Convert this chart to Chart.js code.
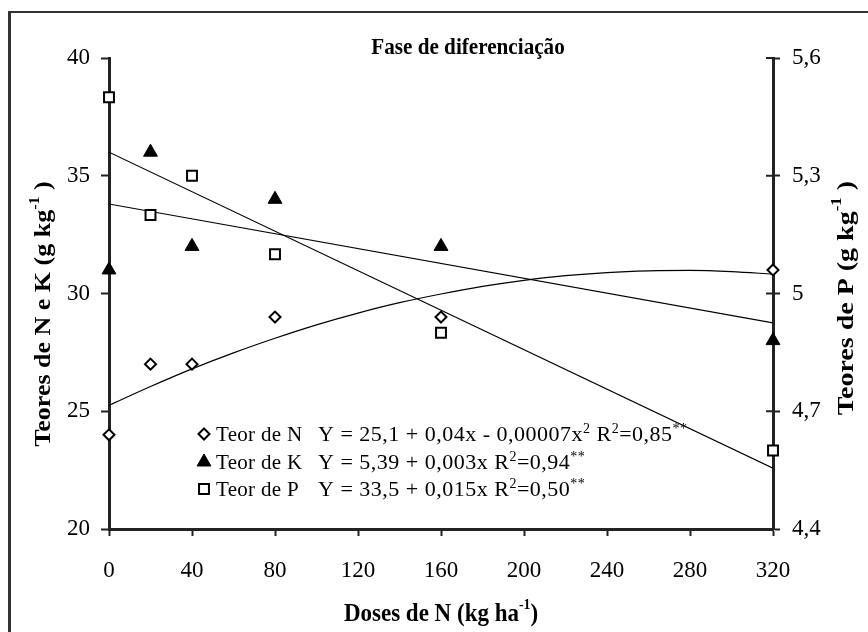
<!DOCTYPE html>
<html><head><meta charset="utf-8">
<script src="https://cdn.jsdelivr.net/npm/chart.js@4.4.1/dist/chart.umd.min.js"></script>
<style>
html,body{margin:0;padding:0;background:#fff;}
#wrap{position:relative;width:868px;height:632px;overflow:hidden;}
#frame{position:absolute;left:8px;top:11px;width:900px;height:700px;border-left:3px solid #333;border-top:2px solid #333;}
#c{position:absolute;left:0;top:0;}
</style></head><body>
<div id="wrap"><div id="frame"></div><canvas id="c" width="868" height="632"></canvas></div>
<script>
// ---- data ----
const doses = [0, 20, 40, 80, 160, 320];
const teorN = [24, 27, 27, 29, 29, 31];
const teorK = [31, 36, 32, 34, 32, 28];
const teorP = [5.5, 5.2, 5.3, 5.1, 4.9, 4.6];
// trend curves
const trendNDoses = [0, 20, 40, 60, 80, 100, 120, 140, 160, 180, 200, 220, 240, 260, 280, 300, 320];
const trendN = [25.25, 26.05, 26.8, 27.48, 28.1, 28.67, 29.17, 29.61, 29.98, 30.3, 30.56, 30.76, 30.89, 30.96, 30.98, 30.93, 30.82];
const trendKDoses = [0, 320];
const trendK = [33.8, 28.75];
const trendPDoses = [0, 320];
const trendP = [5.36, 4.555];
// ticks
const xTicks = [0, 40, 80, 120, 160, 200, 240, 280, 320];
const leftTicks = [20, 25, 30, 35, 40];
const rightTicks = [4.4, 4.7, 5.0, 5.3, 5.6];
// texts
const chartTitle = 'Fase de diferenciação';
const legendNames = ['Teor de N', 'Teor de K', 'Teor de P'];
const legendEq = [
  [['Y = 25,1 + 0,04x - 0,00007x', 0], ['2', 1], [' R', 0], ['2', 1], ['=0,85', 0], ['**', 1]],
  [['Y = 5,39 + 0,003x R', 0], ['2', 1], ['=0,94', 0], ['**', 1]],
  [['Y = 33,5 + 0,015x R', 0], ['2', 1], ['=0,50', 0], ['**', 1]]
];
const xTitle = [['Doses de N (kg ha', 0], ['-1', 1], [')', 0]];
const yLeftTitle = [['Teores de N e K (g kg', 0], ['-1', 1], [' )', 0]];
const yRightTitle = [['Teores de P (g kg', 0], ['-1', 1], [' )', 0]];

const FONT = '"Liberation Serif", "Times New Roman", serif';
const AX = '#222';

function pts(xs, ys) { return xs.map((x, i) => ({x: x, y: ys[i]})); }

function richWidth(ctx, parts, size, bold, supSize) {
  let w = 0;
  parts.forEach(p => {
    ctx.font = (bold ? 'bold ' : '') + (p[1] ? supSize : size) + 'px ' + FONT;
    w += ctx.measureText(p[0]).width;
  });
  return w;
}
function drawRich(ctx, parts, x, y, size, bold, supSize, supRise) {
  let cx = x;
  parts.forEach(p => {
    ctx.font = (bold ? 'bold ' : '') + (p[1] ? supSize : size) + 'px ' + FONT;
    ctx.fillText(p[0], cx, p[1] ? y - supRise : y);
    cx += ctx.measureText(p[0]).width;
  });
}
// rotated title: thickness compressed by `squeeze`
function drawVTitle(ctx, parts, bx, cy, size, squeeze) {
  ctx.save();
  ctx.translate(bx, cy);
  ctx.rotate(-Math.PI / 2);
  ctx.scale(1, squeeze);
  const w = richWidth(ctx, parts, size, true, Math.round(size * 0.62));
  drawRich(ctx, parts, -w / 2, 0, size, true, Math.round(size * 0.62), size * 0.5);
  ctx.restore();
}

const decorPlugin = {
  id: 'decor',
  afterDraw(chart) {
    const ctx = chart.ctx;
    const yR = chart.scales.yR;
    ctx.save();
    // inner half of right-axis ticks
    ctx.strokeStyle = AX; ctx.lineWidth = 2;
    rightTicks.forEach(v => {
      const py = yR.getPixelForValue(v);
      ctx.beginPath(); ctx.moveTo(yR.left - 7, py); ctx.lineTo(yR.left, py); ctx.stroke();
    });
    ctx.fillStyle = '#000';
    ctx.textBaseline = 'alphabetic';
    ctx.textAlign = 'left';
    // title
    ctx.font = 'bold 23px ' + FONT;
    const tw = ctx.measureText(chartTitle).width;
    ctx.save();
    ctx.translate(468, 54); ctx.scale(0.92, 1);
    ctx.fillText(chartTitle, -tw / 2, 0);
    ctx.restore();
    // x title
    ctx.save();
    ctx.translate(441, 621); ctx.scale(0.92, 1);
    let w = richWidth(ctx, xTitle, 25, true, 15);
    drawRich(ctx, xTitle, -w / 2, 0, 25, true, 15, 12);
    ctx.restore();
    // left and right titles
    drawVTitle(ctx, yLeftTitle, 50, 314, 26, 0.85);
    drawVTitle(ctx, yRightTitle, 853, 298, 28, 0.85);
    // legend
    const styles = [
      {pointStyle: 'rectRot', radius: 5.5, borderWidth: 2, fill: '#fff'},
      {pointStyle: 'triangle', radius: 8, borderWidth: 1, fill: '#000'},
      {pointStyle: 'rect', radius: 7, borderWidth: 2, fill: '#fff'}
    ];
    const rowsY = [434, 462, 489];
    const baseY = [441, 469, 496];
    styles.forEach((s, i) => {
      ctx.fillStyle = s.fill; ctx.strokeStyle = '#000'; ctx.lineWidth = s.borderWidth;
      Chart.helpers.drawPoint(ctx, {pointStyle: s.pointStyle, radius: s.radius, borderWidth: s.borderWidth, rotation: 0}, 204, rowsY[i]);
      ctx.fillStyle = '#000';
      ctx.letterSpacing = '0.3px';
      ctx.font = '21px ' + FONT;
      ctx.fillText(legendNames[i], 216, baseY[i]);
      ctx.letterSpacing = '0.5px';
      drawRich(ctx, legendEq[i], 318, baseY[i], 22, false, 14, 8);
      ctx.letterSpacing = '0px';
    });
    ctx.restore();
  }
};

const fmtR = v => String(Number(v.toFixed(1))).replace('.', ',');

new Chart(document.getElementById('c'), {
  type: 'scatter',
  data: {
    datasets: [
      {label: 'Teor de N', data: pts(doses, teorN), yAxisID: 'yL', pointStyle: 'rectRot', pointRadius: 5.5,
       pointBorderWidth: 2, borderColor: '#000', backgroundColor: '#fff', showLine: false, order: 1, clip: false},
      {label: 'Teor de K', data: pts(doses, teorK), yAxisID: 'yL', pointStyle: 'triangle', pointRadius: 8,
       pointBorderWidth: 1, borderColor: '#000', backgroundColor: '#000', showLine: false, order: 1, clip: false},
      {label: 'Teor de P', data: pts(doses, teorP), yAxisID: 'yR', pointStyle: 'rect', pointRadius: 7,
       pointBorderWidth: 2, borderColor: '#000', backgroundColor: '#fff', showLine: false, order: 1, clip: false},
      {label: 'trend N', data: pts(trendNDoses, trendN), yAxisID: 'yL', showLine: true, pointRadius: 0,
       borderColor: '#000', borderWidth: 1.2, tension: 0.4, cubicInterpolationMode: 'monotone', order: 2},
      {label: 'trend K', data: pts(trendKDoses, trendK), yAxisID: 'yL', showLine: true, pointRadius: 0,
       borderColor: '#000', borderWidth: 1.2, order: 2},
      {label: 'trend P', data: pts(trendPDoses, trendP), yAxisID: 'yR', showLine: true, pointRadius: 0,
       borderColor: '#000', borderWidth: 1.2, order: 2}
    ]
  },
  options: {
    responsive: false,
    animation: false,
    devicePixelRatio: 1,
    layout: {padding: {top: 58, left: 0, right: 0, bottom: 0}},
    plugins: {legend: {display: false}, tooltip: {enabled: false}, title: {display: false}},
    scales: {
      x: {
        type: 'linear', position: 'bottom', min: 0, max: 320,
        afterBuildTicks: s => { s.ticks = xTicks.map(v => ({value: v})); },
        afterFit: s => { s.height = 103; },
        grid: {drawOnChartArea: false, drawTicks: true, tickLength: 7, tickWidth: 2, tickColor: AX},
        border: {display: true, color: AX, width: 3},
        ticks: {font: {family: FONT, size: 23}, color: '#000', padding: 21, maxRotation: 0, autoSkip: false}
      },
      yL: {
        type: 'linear', position: 'left', min: 20, max: 40,
        afterBuildTicks: s => { s.ticks = leftTicks.map(v => ({value: v})); },
        afterFit: s => { s.width = 109; },
        grid: {drawOnChartArea: false, drawTicks: true, tickLength: 8, tickWidth: 2, tickColor: AX},
        border: {display: true, color: AX, width: 3},
        ticks: {font: {family: FONT, size: 23}, color: '#000', padding: 11, autoSkip: false}
      },
      yR: {
        type: 'linear', position: 'right', min: 4.4, max: 5.6,
        afterBuildTicks: s => { s.ticks = rightTicks.map(v => ({value: v})); },
        afterFit: s => { s.width = 95; },
        grid: {drawOnChartArea: false, drawTicks: true, tickLength: 7, tickWidth: 2, tickColor: AX},
        border: {display: true, color: AX, width: 3},
        ticks: {font: {family: FONT, size: 23}, color: '#000', padding: 12, autoSkip: false,
                callback: v => fmtR(v)}
      }
    }
  },
  plugins: [decorPlugin]
});
</script>
</body></html>
